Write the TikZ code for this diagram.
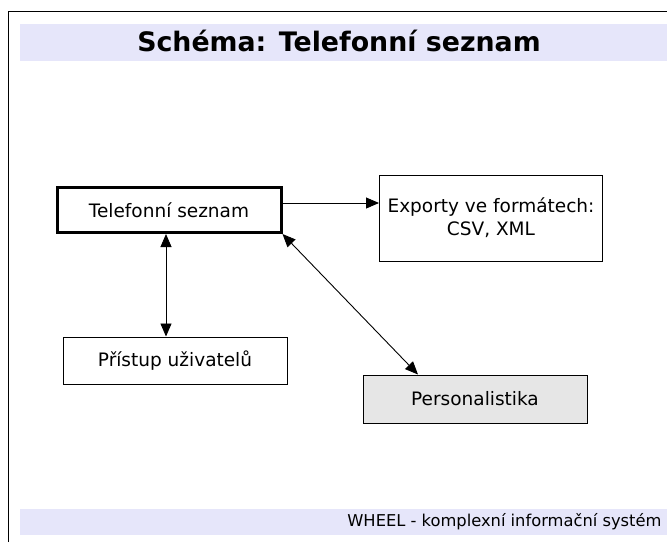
\documentclass[tikz,border=0pt]{standalone}
\usepackage{fontspec}
\setmainfont{DejaVu Sans}
\usetikzlibrary{arrows.meta}
\definecolor{band}{RGB}{230,230,250}
\definecolor{boxgray}{RGB}{230,230,230}
\tikzset{
  box/.style={draw=black, line width=1pt, fill=white, inner sep=0pt, font=\fontsize{18.5}{23}\selectfont, align=center},
  link/.style={line width=0.9pt, {Triangle[length=13pt,width=11pt]}-{Triangle[length=13pt,width=11pt]}},
  onelink/.style={line width=0.9pt, -{Triangle[length=13pt,width=11pt]}}
}
\begin{document}
\begin{tikzpicture}[x=1pt,y=-1pt]
\useasboundingbox (0,0) rectangle (667,542);
% frame
\draw[line width=1pt] (8,542) -- (8,11) -- (667,11);
% title band
\fill[band] (20,24) rectangle (667,61);
\node[font=\bfseries\fontsize{26.8}{30}\selectfont] (title) at (339,41) {Schéma: Telefonní seznam};
% footer band
\fill[band] (20,509) rectangle (667,535);
\node[anchor=east, font=\fontsize{16.3}{18}\selectfont] (foot) at (665,522) {WHEEL - komplexní informační systém};
% nodes
\node[box, line width=3pt, minimum width=224pt, minimum height=45pt] (tel) at (169,210) {Telefonní seznam};
\node[box, minimum width=223pt, minimum height=86pt] (exp) at (491,218) {Exporty ve formátech:\\CSV, XML};
\node[box, minimum width=224pt, minimum height=47pt] (pri) at (175,360.5) {Přístup uživatelů};
\node[box, fill=boxgray, minimum width=224pt, minimum height=48pt] (per) at (475,399) {Personalistika};
% connectors
\draw[onelink] (tel.east |- 0,203) -- (exp.west |- 0,203);
\draw[link] (tel.south -| 166,0) -- (pri.north -| 166,0);
\draw[link] (tel.south east) -- (per.north -| 418,0);
\end{tikzpicture}
\end{document}
